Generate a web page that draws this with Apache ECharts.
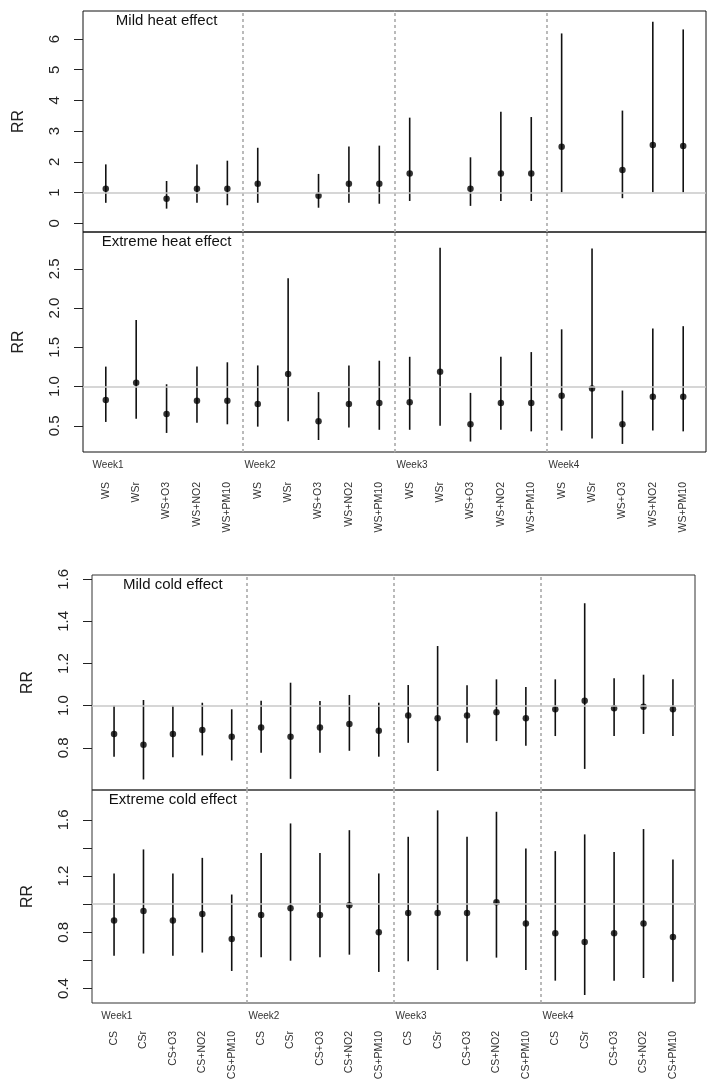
<!DOCTYPE html>
<html><head><meta charset="utf-8">
<script src="https://cdn.jsdelivr.net/npm/echarts@6/dist/echarts.min.js"></script>
<style>html,body{margin:0;padding:0;background:#fff}#c{width:715px;height:1087px}</style>
</head><body><div id="c"></div>
<script>
// ---- data ----
const weeks = ['Week1', 'Week2', 'Week3', 'Week4'];
const heatModels = ['WS', 'WSr', 'WS+O3', 'WS+NO2', 'WS+PM10'];
const coldModels = ['CS', 'CSr', 'CS+O3', 'CS+NO2', 'CS+PM10'];

// Mild heat effect (WSr not estimated)
const mildHeatRR = [1.13, null, 0.80, 1.13, 1.13, 1.29, null, 0.90, 1.29, 1.29, 1.62, null, 1.13, 1.62, 1.62, 2.49, null, 1.74, 2.55, 2.52];
const mildHeatLo = [0.67, null, 0.48, 0.67, 0.59, 0.67, null, 0.51, 0.67, 0.64, 0.73, null, 0.57, 0.73, 0.73, 1.01, null, 0.82, 1.01, 1.01];
const mildHeatHi = [1.92, null, 1.38, 1.92, 2.04, 2.46, null, 1.61, 2.50, 2.53, 3.44, null, 2.15, 3.63, 3.46, 6.18, null, 3.67, 6.56, 6.31];

// Extreme heat effect
const extHeatRR = [0.83, 1.05, 0.65, 0.82, 0.82, 0.78, 1.16, 0.56, 0.78, 0.79, 0.80, 1.19, 0.52, 0.79, 0.79, 0.885, 0.975, 0.52, 0.87, 0.87];
const extHeatLo = [0.55, 0.59, 0.41, 0.54, 0.52, 0.49, 0.56, 0.32, 0.48, 0.45, 0.45, 0.50, 0.30, 0.45, 0.43, 0.44, 0.34, 0.27, 0.44, 0.43];
const extHeatHi = [1.255, 1.85, 1.03, 1.255, 1.31, 1.27, 2.38, 0.93, 1.27, 1.33, 1.38, 2.77, 0.92, 1.38, 1.44, 1.73, 2.76, 0.95, 1.74, 1.77];

// Mild cold effect
const mildColdRR = [0.866, 0.815, 0.866, 0.885, 0.853, 0.896, 0.853, 0.896, 0.913, 0.881, 0.954, 0.940, 0.954, 0.969, 0.940, 0.983, 1.024, 0.988, 0.995, 0.983];
const mildColdLo = [0.758, 0.650, 0.755, 0.764, 0.740, 0.777, 0.653, 0.777, 0.786, 0.758, 0.824, 0.690, 0.824, 0.832, 0.810, 0.856, 0.700, 0.856, 0.866, 0.856];
const mildColdHi = [1.000, 1.027, 1.000, 1.014, 0.983, 1.024, 1.109, 1.022, 1.051, 1.014, 1.098, 1.283, 1.097, 1.125, 1.089, 1.125, 1.486, 1.130, 1.147, 1.125];

// Extreme cold effect
const extColdRR = [0.884, 0.952, 0.884, 0.931, 0.753, 0.924, 0.971, 0.924, 0.993, 0.800, 0.938, 0.938, 0.938, 1.014, 0.862, 0.793, 0.731, 0.793, 0.862, 0.767];
const extColdLo = [0.634, 0.649, 0.634, 0.656, 0.525, 0.622, 0.598, 0.622, 0.641, 0.518, 0.594, 0.532, 0.594, 0.620, 0.532, 0.456, 0.354, 0.456, 0.475, 0.449];
const extColdHi = [1.219, 1.390, 1.219, 1.330, 1.069, 1.364, 1.575, 1.364, 1.527, 1.219, 1.480, 1.668, 1.480, 1.658, 1.397, 1.378, 1.497, 1.371, 1.535, 1.318];

// tick values
const mildHeatTicks = [0, 1, 2, 3, 4, 5, 6];
const extHeatTicks = [0.5, 1.0, 1.5, 2.0, 2.5];
const mildColdTicks = [0.8, 1.0, 1.2, 1.4, 1.6];
const extColdTicks = [0.4, 0.6, 0.8, 1.0, 1.2, 1.4, 1.6];
const extColdLabels = [0.4, 0.8, 1.2, 1.6];
const weekDividers = [4.5, 9.5, 14.5];

// ---- build ----
const FONT = 'Liberation Sans, Arial, sans-serif';
const heatLabels = [], coldLabels = [];
weeks.forEach(() => { heatModels.forEach(m => heatLabels.push(m)); coldModels.forEach(m => coldLabels.push(m)); });

const panels = [
  {title: 'Mild heat effect', rr: mildHeatRR, lo: mildHeatLo, hi: mildHeatHi, grid: {left: 83, right: 9, top: 11, height: 221}, ymin: -0.28, ymax: 6.91, ticks: mildHeatTicks, labels: mildHeatTicks, dec: 0, xl: null},
  {title: 'Extreme heat effect', rr: extHeatRR, lo: extHeatLo, hi: extHeatHi, grid: {left: 83, right: 9, top: 232, height: 220}, ymin: 0.167, ymax: 2.97, ticks: extHeatTicks, labels: extHeatTicks, dec: 1, xl: heatLabels, xm: 30},
  {title: 'Mild cold effect', rr: mildColdRR, lo: mildColdLo, hi: mildColdHi, grid: {left: 92, right: 20, top: 575, height: 215}, ymin: 0.60, ymax: 1.62, ticks: mildColdTicks, labels: mildColdTicks, dec: 1, xl: null},
  {title: 'Extreme cold effect', rr: extColdRR, lo: extColdLo, hi: extColdHi, grid: {left: 92, right: 20, top: 790, height: 213}, ymin: 0.297, ymax: 1.813, ticks: extColdTicks, labels: extColdLabels, dec: 1, xl: coldLabels, xm: 28}
];

const idx = mildHeatRR.map((_, i) => i);
const grids = [], xAxes = [], yAxes = [], series = [];
panels.forEach((p, k) => {
  grids.push(Object.assign({show: true, borderColor: k < 2 ? '#111' : '#333', borderWidth: 1, backgroundColor: 'transparent', containLabel: false, outerBoundsMode: 'none'}, p.grid));
  xAxes.push({
    type: 'value', gridIndex: k, min: -0.75, max: 19.75,
    axisLine: {show: false, onZero: false}, axisTick: {show: false}, splitLine: {show: false},
    axisLabel: p.xl ? {
      show: true, customValues: idx, rotate: 90, margin: p.xm, fontSize: 10.5, color: '#333', fontFamily: FONT,
      formatter: v => p.xl[Math.round(v)]
    } : {show: false}
  });
  yAxes.push({
    type: 'value', gridIndex: k, min: p.ymin, max: p.ymax,
    name: 'RR', nameLocation: 'middle', nameGap: 56, nameRotate: 90,
    nameTextStyle: {fontSize: 16, color: '#222', fontFamily: FONT},
    axisLine: {show: false, onZero: false}, splitLine: {show: false},
    axisTick: {show: true, customValues: p.ticks, length: 9, lineStyle: {color: '#222', width: 1}},
    axisLabel: {show: true, customValues: p.labels, rotate: 90, margin: 21, fontSize: 15, color: '#222', fontFamily: FONT,
      formatter: v => Number(v).toFixed(p.dec)}
  });
  const bars = [], pts = [];
  p.rr.forEach((v, i) => {
    if (v == null) return;
    bars.push([i, p.lo[i], p.hi[i]]);
    pts.push([i, v]);
  });
  series.push({
    type: 'custom', xAxisIndex: k, yAxisIndex: k, silent: true, data: bars,
    renderItem: function (params, api) {
      const a = api.coord([api.value(0), api.value(1)]);
      const b = api.coord([api.value(0), api.value(2)]);
      return {type: 'line', shape: {x1: a[0], y1: a[1], x2: b[0], y2: b[1]}, style: {stroke: '#111', lineWidth: 1.6}};
    },
    markLine: {
      silent: true, symbol: 'none', label: {show: false}, animation: false,
      data: weekDividers.map(x => ({xAxis: x, lineStyle: {color: '#aaa', type: [3, 3], width: 1.6}}))
        .concat([{yAxis: 1, lineStyle: {color: '#c8c8c8', type: 'solid', width: 1.6}}])
    },
    z: 3
  });
  series.push({
    type: 'scatter', xAxisIndex: k, yAxisIndex: k, data: pts, symbol: 'circle', symbolSize: 6.5,
    itemStyle: {color: '#000'}, silent: true, z: 4
  });
});

const chart = echarts.init(document.getElementById('c'), null, {renderer: 'canvas'});
chart.setOption({
  animation: false, backgroundColor: '#fff',
  grid: grids, xAxis: xAxes, yAxis: yAxes, series: series
});

// text annotations positioned through the axes
const gfx = [];
panels.forEach((p, k) => {
  const cx = chart.convertToPixel({xAxisIndex: k}, 2);
  gfx.push({type: 'text', x: cx, y: p.grid.top + 10, style: {text: p.title, fontSize: 15, fill: '#111', fontFamily: FONT, align: 'center', verticalAlign: 'middle'}});
  if (p.xl) {
    const yb = p.grid.top + p.grid.height + 13.5;
    weeks.forEach((w, j) => {
      const wx = chart.convertToPixel({xAxisIndex: k}, j * 5 - 0.5) + 2;
      gfx.push({type: 'text', x: wx, y: yb, style: {text: w, fontSize: 10, fill: '#333', fontFamily: FONT, align: 'left', verticalAlign: 'middle'}});
    });
  }
});
chart.setOption({graphic: gfx});
</script></body></html>
